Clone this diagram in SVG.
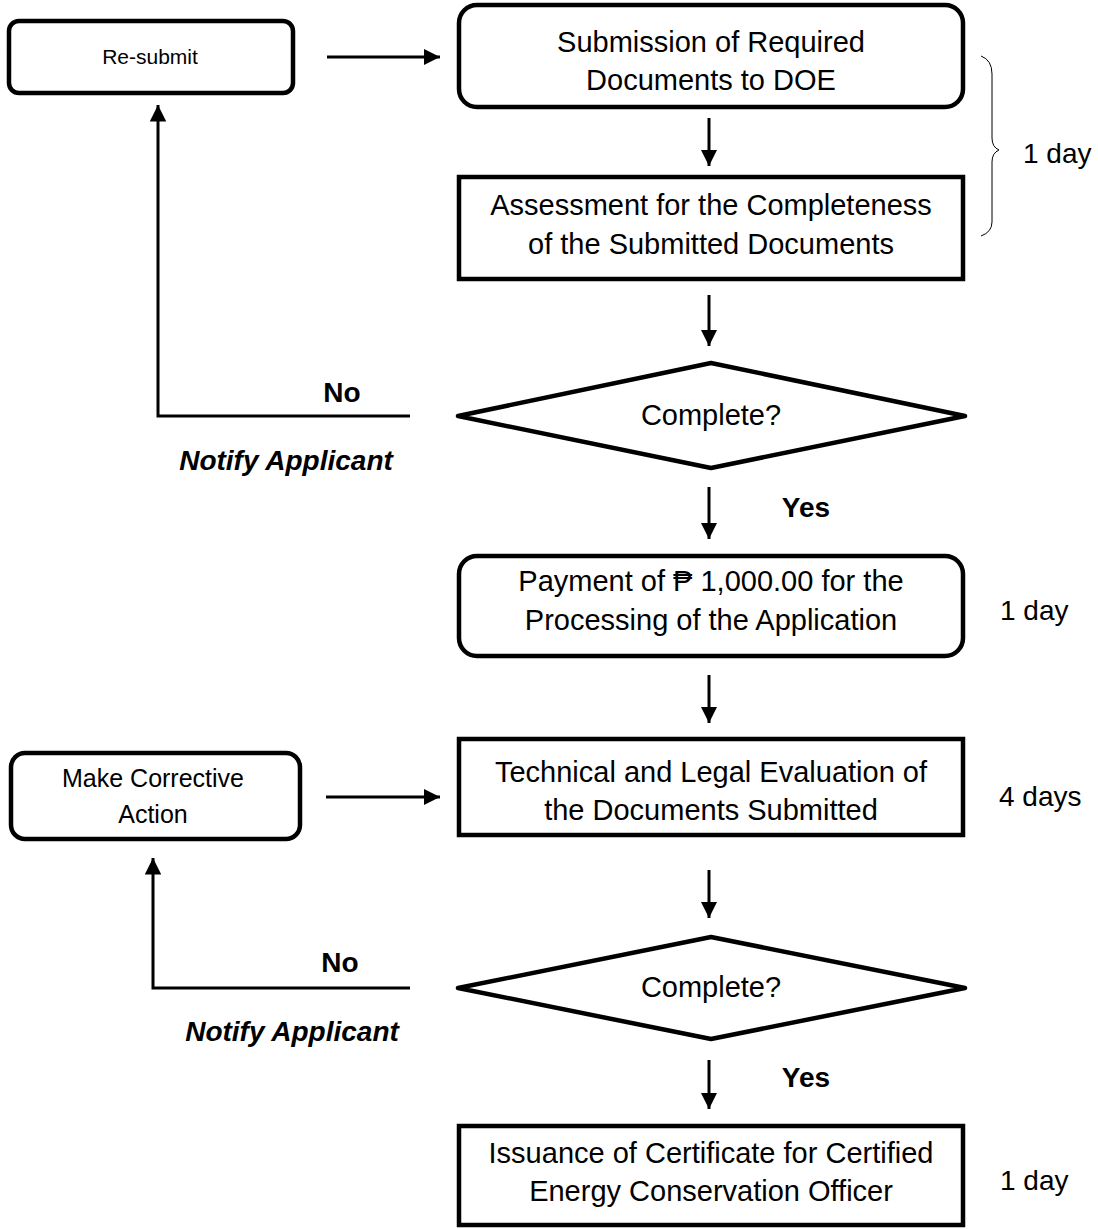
<svg xmlns="http://www.w3.org/2000/svg" width="1098" height="1229" viewBox="0 0 1098 1229">
<defs>
<marker id="ah" viewBox="0 0 10 10" refX="10" refY="5" markerWidth="5.5" markerHeight="5.5" orient="auto" markerUnits="strokeWidth"><path d="M0,0 L10,5 L0,10 z" fill="#000"/></marker>
</defs>
<style>
.box{fill:#fff;stroke:#000;stroke-width:4.5}
.t{font-family:"Liberation Sans",Arial,sans-serif;font-size:29px;fill:#000;text-anchor:middle}
.s{font-family:"Liberation Sans",Arial,sans-serif;font-size:25px;fill:#000;text-anchor:middle}
.r{font-family:"Liberation Sans",Arial,sans-serif;font-size:21px;fill:#000;text-anchor:middle}
.b{font-family:"Liberation Sans",Arial,sans-serif;font-size:28px;font-weight:bold;fill:#000;text-anchor:middle}
.bi{font-family:"Liberation Sans",Arial,sans-serif;font-size:28px;font-weight:bold;font-style:italic;fill:#000;text-anchor:middle}
.d{font-family:"Liberation Sans",Arial,sans-serif;font-size:28px;fill:#000}
.c{fill:none;stroke:#000;stroke-width:3}
</style>
<rect width="1098" height="1229" fill="#fff"/>
<g id="connectors">
<line class="c" x1="327" y1="57" x2="440" y2="57" marker-end="url(#ah)"/>
<line class="c" x1="709" y1="118" x2="709" y2="166" marker-end="url(#ah)"/>
<line class="c" x1="709" y1="295" x2="709" y2="346" marker-end="url(#ah)"/>
<polyline class="c" points="410,416 158,416 158,105" marker-end="url(#ah)"/>
<line class="c" x1="709" y1="487" x2="709" y2="539" marker-end="url(#ah)"/>
<line class="c" x1="709" y1="675" x2="709" y2="723" marker-end="url(#ah)"/>
<line class="c" x1="326" y1="797" x2="440" y2="797" marker-end="url(#ah)"/>
<line class="c" x1="709" y1="870" x2="709" y2="918" marker-end="url(#ah)"/>
<polyline class="c" points="410,988 153,988 153,858" marker-end="url(#ah)"/>
<line class="c" x1="709" y1="1060" x2="709" y2="1109" marker-end="url(#ah)"/>
</g>
<g id="resubmit"><rect class="box" x="9" y="21" width="284" height="72" rx="10"/><text class="r" x="150" y="64">Re-submit</text></g>
<g id="submission"><rect class="box" x="459" y="5" width="504" height="102" rx="18"/><text class="t" x="711" y="52">Submission of Required</text><text class="t" x="711" y="90">Documents to DOE</text></g>
<g id="assessment"><rect class="box" x="459" y="177" width="504" height="102"/><text class="t" x="711" y="215">Assessment for the Completeness</text><text class="t" x="711" y="254">of the Submitted Documents</text></g>
<g id="brace1"><path d="M981,56 Q992,60 992,74 L992,138 Q992,147 999,150 Q992,153 992,162 L992,222 Q992,232 981,236" fill="none" stroke="#000" stroke-width="1"/><text class="d" x="1023" y="163">1 day</text></g>
<g id="decision1"><polygon class="box" points="458,416 711,363 965,416 711,468" stroke-linejoin="round"/><text class="t" x="711" y="425">Complete?</text></g>
<g id="labels1"><text class="b" x="342" y="402">No</text><text class="bi" x="286" y="470">Notify Applicant</text><text class="b" x="806" y="517">Yes</text></g>
<g id="payment"><rect class="box" x="459" y="556" width="504" height="100" rx="18"/><text class="t" x="711" y="591">Payment of ₱ 1,000.00 for the</text><text class="t" x="711" y="630">Processing of the Application</text><text class="d" x="1000" y="620">1 day</text></g>
<g id="corrective"><rect class="box" x="11" y="753" width="289" height="86" rx="14"/><text class="s" x="153" y="787">Make Corrective</text><text class="s" x="153" y="823">Action</text></g>
<g id="evaluation"><rect class="box" x="459" y="739" width="504" height="96"/><text class="t" x="711" y="782">Technical and Legal Evaluation of</text><text class="t" x="711" y="820">the Documents Submitted</text><text class="d" x="999" y="806">4 days</text></g>
<g id="decision2"><polygon class="box" points="458,988 711,937 965,988 711,1039" stroke-linejoin="round"/><text class="t" x="711" y="997">Complete?</text></g>
<g id="labels2"><text class="b" x="340" y="972">No</text><text class="bi" x="292" y="1041">Notify Applicant</text><text class="b" x="806" y="1087">Yes</text></g>
<g id="issuance"><rect class="box" x="459" y="1126" width="504" height="99"/><text class="t" x="711" y="1163">Issuance of Certificate for Certified</text><text class="t" x="711" y="1201">Energy Conservation Officer</text><text class="d" x="1000" y="1190">1 day</text></g>
</svg>
